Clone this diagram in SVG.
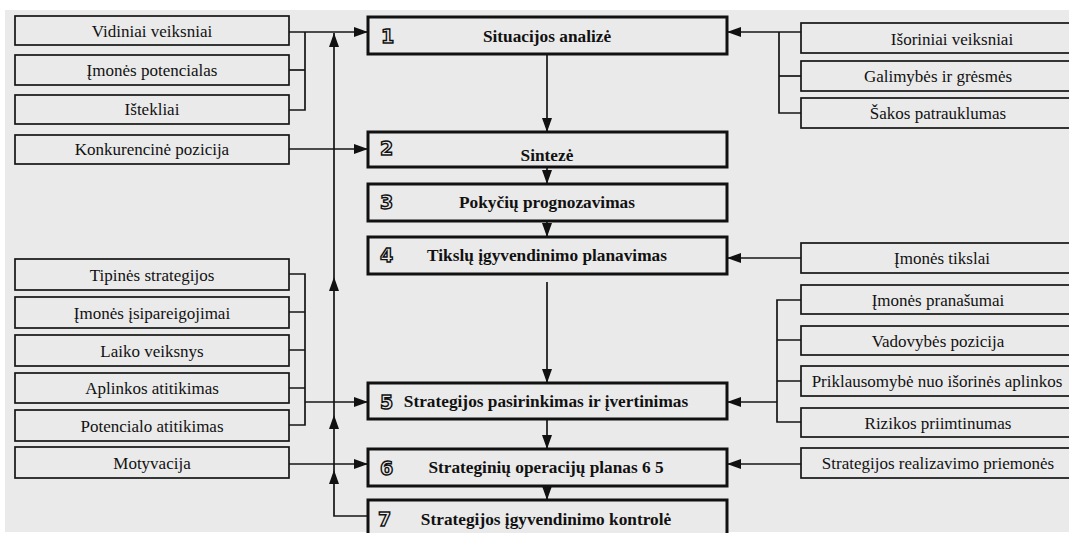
<svg xmlns="http://www.w3.org/2000/svg" width="1069" height="533" viewBox="0 0 1069 533">
  <style>
    .sbox { fill: #eaeaea; stroke: #161616; stroke-width: 1.7; }
    .mbox { fill: #eaeaea; stroke: #111; stroke-width: 3; }
    .st { font-family: "Liberation Serif", "Times New Roman", serif; font-size: 17px; fill: #111; text-anchor: middle; }
    .mt { font-family: "Liberation Serif", "Times New Roman", serif; font-size: 17.3px; font-weight: bold; fill: #111; text-anchor: middle; }
    .num { font-family: "DejaVu Sans", sans-serif; font-size: 19px; font-weight: bold; fill: #eaeaea; stroke: #111; stroke-width: 1.4; }
    .ln { fill: none; stroke: #161616; stroke-width: 1.7; }
    .arr { fill: none; stroke: #161616; stroke-width: 1.7; marker-end: url(#ah); }
  </style>
  <defs>
    <marker id="ah" markerUnits="userSpaceOnUse" markerWidth="15" markerHeight="11" refX="14" refY="5" orient="auto">
      <path d="M0,0 L14,5 L0,10 z" fill="#111"/>
    </marker>
    <path id="up" d="M0,0 L5,14 L-5,14 z" fill="#111"/>
  </defs>

  <rect x="0" y="0" width="1069" height="533" fill="#ffffff"/>
  <rect x="5" y="10" width="1064" height="522" fill="#eaeaea"/>

  <!-- connectors -->
  <g id="connectors">
    <!-- left inputs to 1 -->
    <path class="ln" d="M289,110 H305 V32"/>
    <path class="ln" d="M289,70 H305"/>
    <path class="arr" d="M289,32 H368"/>
    <!-- left input to 2 -->
    <path class="arr" d="M289,149 H368"/>
    <!-- left inputs to 5 -->
    <path class="ln" d="M289,274 H305 V425 H289"/>
    <path class="ln" d="M289,312 H305 M289,350 H305 M289,388 H305"/>
    <path class="arr" d="M305,402 H368"/>
    <!-- left input to 6 -->
    <path class="arr" d="M289,464 H368"/>
    <!-- feedback from 7 -->
    <path class="arr" d="M368,516 H334 V33"/>
    <use href="#up" x="334" y="277"/>
    <use href="#up" x="334" y="415"/>
    <use href="#up" x="334" y="470"/>
    <!-- main chain -->
    <path class="arr" d="M547,54 V132"/>
    <path class="arr" d="M547,167 V184"/>
    <path class="arr" d="M547,221 V237"/>
    <path class="arr" d="M547,282 V383"/>
    <path class="arr" d="M547,419 V449"/>
    <path class="arr" d="M547,486 V500"/>
    <!-- right inputs to 1 -->
    <path class="arr" d="M801,32 H727"/>
    <path class="ln" d="M779,32 V113 H801"/>
    <path class="ln" d="M779,76 H801"/>
    <!-- right input to 4 -->
    <path class="arr" d="M801,258 H727"/>
    <!-- right inputs to 5 -->
    <path class="ln" d="M801,300 H777 V422 H801"/>
    <path class="ln" d="M777,340 H801 M777,381 H801"/>
    <path class="arr" d="M777,402 H727"/>
    <!-- right input to 6 -->
    <path class="arr" d="M801,464 H727"/>
  </g>

  <!-- left factors -->
  <g id="vidiniai"><rect class="sbox" x="15" y="16" width="274" height="29"/><text class="st" x="152" y="37">Vidiniai veiksniai</text></g>
  <g id="potencialas"><rect class="sbox" x="15" y="55" width="274" height="30"/><text class="st" x="152" y="76">Įmonės potencialas</text></g>
  <g id="istekliai"><rect class="sbox" x="15" y="95" width="274" height="29"/><text class="st" x="152" y="115">Ištekliai</text></g>
  <g id="konkurencine"><rect class="sbox" x="15" y="135" width="274" height="29"/><text class="st" x="152" y="155">Konkurencinė pozicija</text></g>
  <g id="tipines"><rect class="sbox" x="15" y="259" width="274" height="31"/><text class="st" x="152" y="281">Tipinės strategijos</text></g>
  <g id="isipareigojimai"><rect class="sbox" x="15" y="297" width="274" height="31"/><text class="st" x="152" y="319">Įmonės įsipareigojimai</text></g>
  <g id="laiko"><rect class="sbox" x="15" y="335" width="274" height="31"/><text class="st" x="152" y="357">Laiko veiksnys</text></g>
  <g id="aplinkos"><rect class="sbox" x="15" y="373" width="274" height="30"/><text class="st" x="152" y="394">Aplinkos atitikimas</text></g>
  <g id="potencialo"><rect class="sbox" x="15" y="410" width="274" height="31"/><text class="st" x="152" y="432">Potencialo atitikimas</text></g>
  <g id="motyvacija"><rect class="sbox" x="15" y="447" width="274" height="31"/><text class="st" x="152" y="469">Motyvacija</text></g>

  <!-- main stages -->
  <g id="stage1"><rect class="mbox" x="368" y="17" width="359" height="37"/><text class="num" x="381" y="43">1</text><text class="mt" x="547" y="42">Situacijos analizė</text></g>
  <g id="stage2"><rect class="mbox" x="368" y="132" width="359" height="35"/><text class="num" x="380" y="155">2</text><text class="mt" x="547" y="161">Sintezė</text></g>
  <g id="stage3"><rect class="mbox" x="368" y="184" width="359" height="37"/><text class="num" x="380" y="209">3</text><text class="mt" x="547" y="208">Pokyčių prognozavimas</text></g>
  <g id="stage4"><rect class="mbox" x="368" y="237" width="359" height="37"/><text class="num" x="380" y="262">4</text><text class="mt" x="547" y="261">Tikslų įgyvendinimo planavimas</text></g>
  <g id="stage5"><rect class="mbox" x="368" y="383" width="359" height="36"/><text class="num" x="380" y="409">5</text><text class="mt" x="546" y="407">Strategijos pasirinkimas ir įvertinimas</text></g>
  <g id="stage6"><rect class="mbox" x="368" y="449" width="359" height="37"/><text class="num" x="380" y="475">6</text><text class="mt" x="546" y="473">Strateginių operacijų planas 6 5</text></g>
  <g id="stage7"><rect class="mbox" x="368" y="500" width="359" height="45"/><text class="num" x="378" y="526">7</text><text class="mt" x="546" y="525">Strategijos įgyvendinimo kontrolė</text></g>

  <!-- right factors -->
  <g id="isoriniai"><rect class="sbox" x="801" y="23" width="280" height="30"/><text class="st" x="952" y="45">Išoriniai veiksniai</text></g>
  <g id="galimybes"><rect class="sbox" x="801" y="61" width="280" height="30"/><text class="st" x="938" y="82">Galimybės ir grėsmės</text></g>
  <g id="sakos"><rect class="sbox" x="801" y="98" width="280" height="30"/><text class="st" x="938" y="119">Šakos patrauklumas</text></g>
  <g id="tikslai"><rect class="sbox" x="801" y="243" width="280" height="30"/><text class="st" x="942" y="264">Įmonės tikslai</text></g>
  <g id="pranasumai"><rect class="sbox" x="801" y="285" width="280" height="29"/><text class="st" x="938" y="306">Įmonės pranašumai</text></g>
  <g id="vadovybes"><rect class="sbox" x="801" y="326" width="280" height="29"/><text class="st" x="938" y="347">Vadovybės pozicija</text></g>
  <g id="priklausomybe"><rect class="sbox" x="801" y="366" width="280" height="30"/><text class="st" x="937" y="387">Priklausomybė nuo išorinės aplinkos</text></g>
  <g id="rizikos"><rect class="sbox" x="801" y="408" width="280" height="29"/><text class="st" x="938" y="429">Rizikos priimtinumas</text></g>
  <g id="realizavimo"><rect class="sbox" x="801" y="448" width="280" height="30"/><text class="st" x="938" y="469">Strategijos realizavimo priemonės</text></g>
</svg>
